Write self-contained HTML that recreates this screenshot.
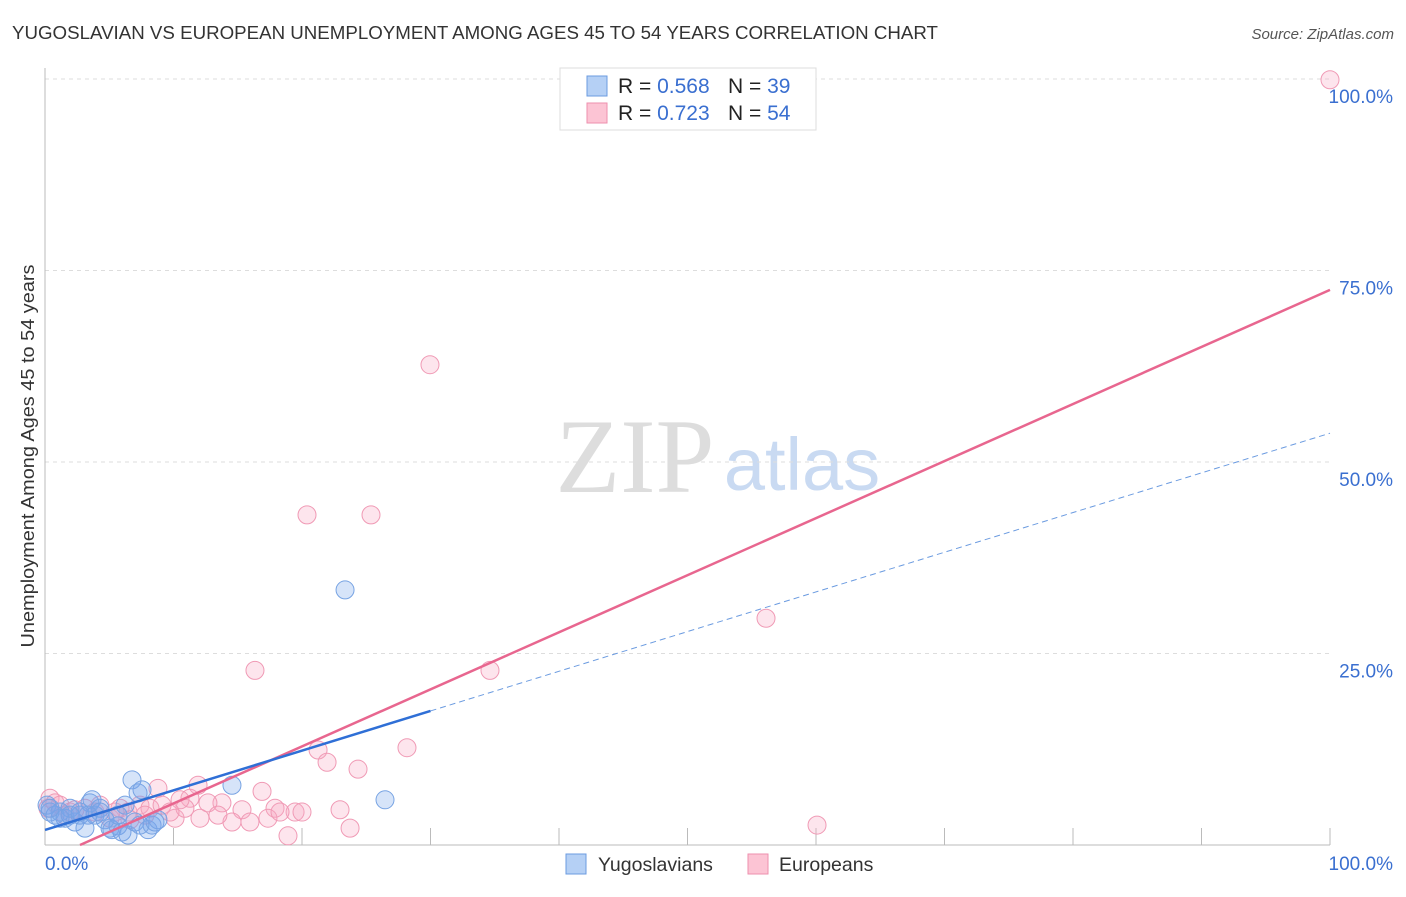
<!DOCTYPE html>
<html><head><meta charset="utf-8"><style>
body{margin:0;background:#fff;font-family:"Liberation Sans",sans-serif;}
</style></head><body>
<svg id="chart" width="1406" height="892" xmlns="http://www.w3.org/2000/svg" font-family="Liberation Sans, sans-serif">
<text x="12" y="39" font-size="18" fill="#333" textLength="926" lengthAdjust="spacingAndGlyphs">YUGOSLAVIAN VS EUROPEAN UNEMPLOYMENT AMONG AGES 45 TO 54 YEARS CORRELATION CHART</text>
<text x="1394" y="39" font-size="15" fill="#555" text-anchor="end" font-style="italic">Source: ZipAtlas.com</text>
<g>
<text x="635" y="492" font-size="106" font-family="Liberation Serif, serif" fill="#ddd" text-anchor="middle">ZIP</text>
<text x="802" y="490" font-size="74" fill="#c9daf2" text-anchor="middle">atlas</text>
</g>
<g id="grid"></g>
<g id="axes"></g>
<g id="pts"></g>
<g id="lines"></g>
<text transform="translate(34,456) rotate(-90)" font-size="18" fill="#333" text-anchor="middle" textLength="383" lengthAdjust="spacingAndGlyphs">Unemployment Among Ages 45 to 54 years</text>
<g>
<rect x="560" y="68" width="256" height="62" fill="#fff" stroke="#ddd"/>
<rect x="587" y="76" width="20" height="20" fill="#b5d0f5" stroke="#6b9be0"/>
<rect x="587" y="103" width="20" height="20" fill="#fcc4d4" stroke="#ee8fae"/>
<text x="618" y="93" font-size="21" fill="#222">R = <tspan fill="#3a6fd0">0.568</tspan><tspan x="728">N = </tspan><tspan fill="#3a6fd0">39</tspan></text>
<text x="618" y="120" font-size="21" fill="#222">R = <tspan fill="#3a6fd0">0.723</tspan><tspan x="728">N = </tspan><tspan fill="#3a6fd0">54</tspan></text>
</g>
<g>
<rect x="566" y="854" width="20" height="20" fill="#b5d0f5" stroke="#6b9be0"/>
<text x="598" y="871" font-size="19.5" fill="#333">Yugoslavians</text>
<rect x="748" y="854" width="20" height="20" fill="#fcc4d4" stroke="#ee8fae"/>
<text x="779" y="871" font-size="19.5" fill="#333">Europeans</text>
</g>
</svg>
<script>
const yTicks=[25,50,75,100];
const yTickLabels=["25.0%","50.0%","75.0%","100.0%"];
const xTicks=[10,20,30,40,50,60,70,80,90,100];
const blueX=[0.16,0.39,0.78,1.17,1.56,1.95,2.33,2.72,3.11,3.5,3.66,3.89,4.28,4.67,5.06,5.21,5.68,5.99,6.23,6.46,6.77,7.0,7.24,7.55,8.02,8.33,8.79,14.55,23.35,26.46,4.28,3.35,1.17,1.95,2.72,0.39,5.68,7.39,8.56];
const blueY=[5.2,4.3,3.9,4.3,3.5,4.8,3.0,3.9,2.2,5.5,5.9,3.9,4.8,3.3,2.2,2.0,2.5,1.7,5.2,1.3,8.5,3.0,6.8,7.2,2.0,2.6,3.3,7.8,33.3,5.9,4.3,3.9,3.5,3.9,4.3,4.8,3.9,2.6,3.0];
const pinkX=[100,29.96,20.39,25.37,56.11,16.34,34.63,28.17,21.25,21.95,24.36,8.79,11.91,16.89,11.28,13.77,12.68,17.9,19.46,20.0,15.33,14.55,15.95,17.35,22.96,23.74,18.91,60.08,0.39,0.78,1.17,1.95,3.11,3.89,5.06,5.84,6.46,7.39,8.17,9.11,10.12,10.89,12.06,13.46,10.51,6.61,1.56,2.33,4.28,5.45,7.78,9.73,18.29,0.23];
const pinkY=[99.9,62.7,43.1,43.1,29.6,22.8,22.8,12.7,12.4,10.8,9.9,7.4,7.8,7.0,6.1,5.5,5.5,4.8,4.3,4.3,4.6,3.0,3.0,3.5,4.6,2.2,1.2,2.6,6.1,5.5,5.2,4.3,4.8,4.3,3.5,4.8,4.3,5.2,4.8,5.2,3.5,4.8,3.5,3.9,5.9,3.3,3.9,4.6,5.2,4.3,3.9,4.3,4.3,4.8];
const blueTrend=[1.96,0.518]; // intercept, slope
const pinkTrend=[-2.03,0.745];
const blueSolidEnd=30;
const NS="http://www.w3.org/2000/svg";
const X=v=>45+v*12.85, Y=v=>845-v*7.66;
function mk(parent,tag,attrs){const e=document.createElementNS(NS,tag);for(const k in attrs)e.setAttribute(k,attrs[k]);document.getElementById(parent).appendChild(e);return e;}
yTicks.forEach((t,i)=>{
 const l=mk('grid','line',{x1:45,x2:1330,y1:Y(t),y2:Y(t),stroke:'#ddd','stroke-dasharray':'4,4'});
 
 
 const tx=mk('grid','text',{x:1393,y:Y(t)+24,'font-size':19,fill:'#3a6fd0','text-anchor':'end'});
 tx.textContent=yTickLabels[i];
 
 
});
const ax=mk('axes','line',{x1:45,x2:45,y1:68,y2:845,stroke:'#bbb'});


const bx=mk('axes','line',{x1:45,x2:1330,y1:845,y2:845,stroke:'#bbb'});


xTicks.forEach(t=>{
 const l=mk('axes','line',{x1:X(t),x2:X(t),y1:828,y2:845,stroke:'#bbb'});
 
 
});
const x0=mk('axes','text',{x:45,y:870,'font-size':19,fill:'#3a6fd0'});x0.textContent='0.0%';


const x1=mk('axes','text',{x:1393,y:870,'font-size':19,fill:'#3a6fd0','text-anchor':'end'});x1.textContent='100.0%';


pinkX.forEach((v,i)=>{
 const c=mk('pts','circle',{cx:X(v),cy:Y(pinkY[i]),r:9,fill:'rgba(248,170,195,0.3)',stroke:'#f09ab5','stroke-width':1});
 
 
});
blueX.forEach((v,i)=>{
 const c=mk('pts','circle',{cx:X(v),cy:Y(blueY[i]),r:9,fill:'rgba(120,165,235,0.3)',stroke:'#77a3e3','stroke-width':1});
 
 
});
const px0=-pinkTrend[0]/pinkTrend[1];
const pl=mk('lines','line',{x1:X(px0),y1:Y(0),x2:X(100),y2:Y(pinkTrend[0]+pinkTrend[1]*100),stroke:'#e8668f','stroke-width':2.5});


const bl=mk('lines','line',{x1:X(0),y1:Y(blueTrend[0]),x2:X(blueSolidEnd),y2:Y(blueTrend[0]+blueTrend[1]*blueSolidEnd),stroke:'#2f6fd6','stroke-width':2.5});


const bd=mk('lines','line',{x1:X(blueSolidEnd),y1:Y(blueTrend[0]+blueTrend[1]*blueSolidEnd),x2:X(100),y2:Y(blueTrend[0]+blueTrend[1]*100),stroke:'#6b9be0','stroke-width':1,'stroke-dasharray':'6,4'});


</script>
</body></html>
